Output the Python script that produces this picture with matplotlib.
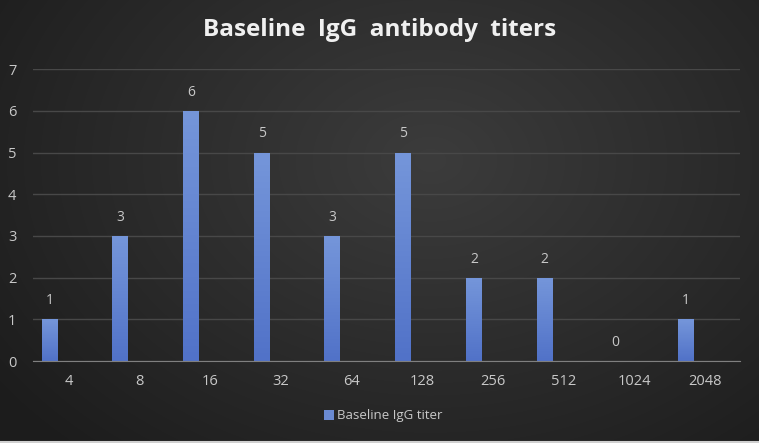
import numpy as np
import matplotlib.pyplot as plt
from matplotlib.colors import LinearSegmentedColormap

categories = ['4', '8', '16', '32', '64', '128', '256', '512', '1024', '2048']
counts = [1, 3, 6, 5, 3, 5, 2, 2, 0, 1]
y_ticks = [0, 1, 2, 3, 4, 5, 6, 7]

plt.rcParams['font.family'] = ['Open Sans', 'DejaVu Sans']

fig = plt.figure(figsize=(7.59, 4.43), dpi=100)

# radial dark background
bg = fig.add_axes([0, 0, 1, 1])
yy, xx = np.mgrid[0:443, 0:759]
d = np.sqrt(((xx - 430) / 520.0) ** 2 + ((yy - 160) / 380.0) ** 2)
shade = np.clip(0.235 - 0.12 * d, 0.11, 0.235)
bg.imshow(np.dstack([shade] * 3), aspect='auto', extent=[0, 1, 0, 1], origin='upper')
bg.axhline(0.002, color='#d0d0d0', lw=1.5)
bg.set_axis_off()

ax = fig.add_axes([0.0435, 0.185, 0.9315, 0.659])
ax.patch.set_alpha(0)

x = np.arange(len(categories))
offset = -0.265
width = 0.226
bars = ax.bar(x + offset, counts, width, color='#6a8ad2', zorder=3,
              label='Baseline IgG titer')

# vertical gradient on each bar
grad = np.linspace(0, 1, 100).reshape(-1, 1)
cmap = LinearSegmentedColormap.from_list('b', ['#7596da', '#5172c8'])
for b in bars:
    h = b.get_height()
    if h <= 0:
        continue
    im = ax.imshow(grad, cmap=cmap, aspect='auto', zorder=4,
                   extent=[b.get_x(), b.get_x() + b.get_width(), 0, h], origin='upper')
    im.set_clip_path(b)

for xi, v in zip(x, counts):
    ax.annotate(str(v), (xi + offset, v), xytext=(0, 8), textcoords='offset points',
                ha='center', va='bottom', color='#c8c8c8', fontsize=10)

ax.set_xlim(-0.5, len(categories) - 0.5)
ax.set_ylim(0, 7)
ax.set_yticks(y_ticks)
ax.set_xticks(x)
ax.set_xticklabels(categories)
ax.tick_params(axis='both', length=0, colors='#c8c8c8', labelsize=10.5)
ax.tick_params(axis='y', pad=12)
ax.tick_params(axis='x', pad=9)
ax.grid(axis='y', color='#484848', lw=1, zorder=0)
for s in ['top', 'right', 'left']:
    ax.spines[s].set_visible(False)
ax.spines['bottom'].set_color('#808080')
ax.spines['bottom'].set_zorder(5)

fig.text(0.5, 0.932, 'Baseline  IgG  antibody  titers', ha='center', va='center',
         color='#f0f0f0', fontsize=17.5, fontweight='bold')

leg = fig.legend(handles=[bars], labels=['Baseline IgG titer'], loc='center',
                 bbox_to_anchor=(0.505, 0.061), frameon=False, fontsize=9.5,
                 handlelength=0.75, handleheight=0.75, handletextpad=0.25)
for t in leg.get_texts():
    t.set_color('#c8c8c8')

fig.savefig('out.png', dpi=100)
